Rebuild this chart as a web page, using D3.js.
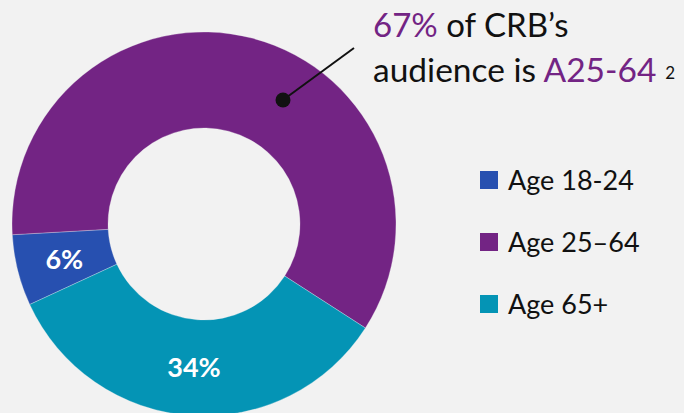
<!DOCTYPE html>
<html>
<head>
<meta charset="utf-8">
<script src="https://cdn.jsdelivr.net/npm/d3@7"></script>
<style>
  html, body { margin: 0; padding: 0; background: #f2f2f2; }
  svg { display: block; font-family: Lato, "Open Sans", sans-serif; }
</style>
</head>
<body>
<svg id="chart" width="684" height="413"></svg>
<script>
const categories = ["Age 18-24", "Age 25\u201364", "Age 65+"];
const values = [6, 60, 34];
const sliceLabels = ["6%", "", "34%"];
const colors = ["#2750b0", "#732484", "#0494b5"];
const annotationLine1 = [{t: "67%", purple: true}, {t: " of CRB\u2019s", purple: false}];
const annotationLine2 = [{t: "audience is ", purple: false}, {t: "A25-64", purple: true}];
const annotationSup = "2";

const W = 684, H = 413;
const svg = d3.select("#chart");
svg.append("rect").attr("width", W).attr("height", H).attr("fill", "#f2f2f2");

const cx = 204, cy = 224, R = 192, r = 96;
const start = -114.8 * Math.PI / 180;

const pie = d3.pie().sort(null).value(d => d).startAngle(start).endAngle(start + 2 * Math.PI);
const arcs = pie(values);
const arc = d3.arc().innerRadius(r).outerRadius(R);

const g = svg.append("g").attr("transform", `translate(${cx},${cy})`);
g.selectAll("path.slice").data(arcs).join("path")
  .attr("class", "slice")
  .attr("d", arc)
  .attr("fill", (d, i) => colors[i])
  .attr("stroke", "#f2f2f2")
  .attr("stroke-width", 0.3);

g.selectAll("text.lbl").data(arcs).join("text")
  .attr("class", "lbl")
  .attr("transform", d => `translate(${arc.centroid(d)})`)
  .attr("text-anchor", "middle")
  .attr("dy", "0.36em")
  .attr("fill", "#ffffff")
  .attr("font-weight", 700)
  .attr("font-size", 27)
  .text((d, i) => sliceLabels[i]);

// annotation
const purpleText = "#732484";
const t1 = svg.append("text").attr("x", 373).attr("y", 37).attr("font-size", 33).attr("fill", "#111");
annotationLine1.forEach(p => t1.append("tspan").attr("fill", p.purple ? purpleText : "#111").text(p.t));
const t2 = svg.append("text").attr("x", 373).attr("y", 82).attr("font-size", 33.5).attr("fill", "#111");
annotationLine2.forEach(p => t2.append("tspan").attr("fill", p.purple ? purpleText : "#111").text(p.t));
t2.append("tspan").attr("dx", 9).attr("dy", -3).attr("font-size", 17).attr("fill", "#111").text(annotationSup);

// pointer
svg.append("line").attr("x1", 354).attr("y1", 48).attr("x2", 283).attr("y2", 100)
  .attr("stroke", "#111").attr("stroke-width", 2);
svg.append("circle").attr("cx", 283).attr("cy", 100).attr("r", 7.5).attr("fill", "#111");

// legend
const legend = svg.append("g");
const ly = d3.scalePoint().domain(categories).range([180, 304]);
const items = legend.selectAll("g").data(categories).join("g")
  .attr("transform", d => `translate(480,${ly(d)})`);
items.append("rect").attr("x", 0).attr("y", -9).attr("width", 18).attr("height", 18)
  .attr("fill", (d, i) => colors[i]);
items.append("text").attr("x", 28).attr("y", 0).attr("dy", "0.36em")
  .attr("font-size", 27).attr("fill", "#111").text(d => d);
</script>
</body>
</html>
